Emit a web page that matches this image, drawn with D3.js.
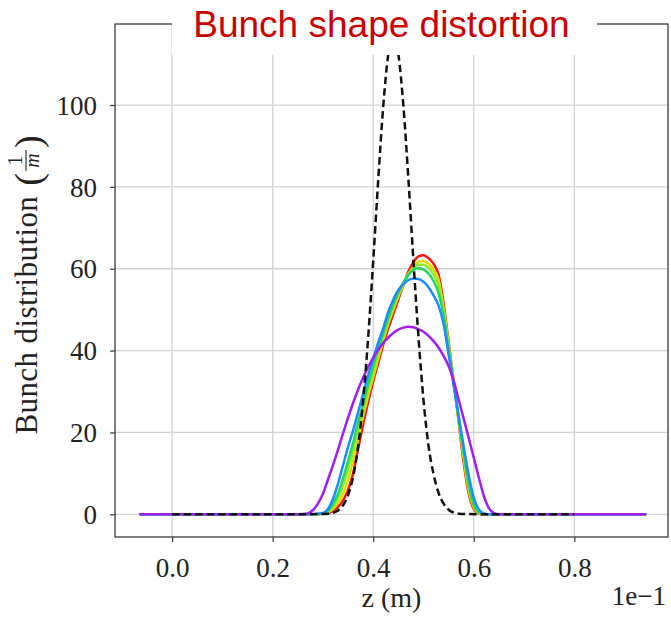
<!DOCTYPE html>
<html>
<head>
<meta charset="utf-8">
<script src="https://cdn.jsdelivr.net/npm/d3@7"></script>
<style>
    body { margin: 0; background: #ffffff; }
    svg { display: block; }
</style>
</head>
<body>
<div id="chart"></div>
<script>
const titleText = "Bunch shape distortion";
const xLabel = "z (m)";
const xOffsetText = "1e\u22121";
const zTicks = [0.0, 0.2, 0.4, 0.6, 0.8];
const yTicks = [0, 20, 40, 60, 80, 100];

// z positions of the solid curves (units of 1e-1 m)
const zSolid = [-0.065,
    0.26, 0.27, 0.28, 0.29, 0.30, 0.31, 0.32, 0.33, 0.34, 0.35, 0.36, 0.37, 0.38, 0.39,
    0.40, 0.41, 0.42, 0.43, 0.44, 0.45, 0.46, 0.47, 0.48, 0.49,
    0.50, 0.51, 0.52, 0.53, 0.54, 0.55, 0.56, 0.57, 0.58, 0.59,
    0.60, 0.61, 0.62, 0.63, 0.64, 0.65, 0.66, 0.943];

const redValues = [0,
    0, 0, 0, 0.05, 0.1, 0.3, 0.8, 1.8, 3.4, 6.0, 10.0, 16.0, 22.0, 27.5,
    32.5, 37.0, 41.5, 45.5, 49.0, 52.5, 56.0, 59.3, 61.6, 63.0,
    63.3, 62.6, 61.2, 58.5, 51.5, 42.0, 32.5, 22.5, 12.5, 5.0,
    1.3, 0.2, 0, 0, 0, 0, 0, 0];
const yellowValues = [0,
    0, 0, 0, 0, 0.15, 0.5, 1.3, 2.8, 5.0, 8.5, 13.0, 18.5, 24.0, 29.0,
    33.5, 38.0, 42.5, 46.5, 50.0, 53.2, 56.0, 58.6, 60.5, 61.7,
    61.9, 61.2, 59.8, 57.2, 50.5, 41.5, 32.5, 23.0, 13.5, 5.8,
    1.7, 0.3, 0, 0, 0, 0, 0, 0];
const limeValues = [0,
    0, 0, 0, 0.05, 0.2, 0.7, 1.9, 4.0, 7.0, 11.0, 15.5, 20.5, 25.5, 30.5,
    35.0, 39.5, 43.5, 47.5, 51.0, 54.0, 56.6, 58.8, 60.3, 61.0,
    61.0, 60.2, 58.6, 55.8, 49.5, 40.8, 32.2, 23.3, 14.5, 6.5,
    2.0, 0.4, 0, 0, 0, 0, 0, 0];
const greenValues = [0,
    0, 0, 0, 0.05, 0.25, 0.9, 2.5, 5.0, 8.8, 13.0, 17.5, 22.5, 27.0, 31.8,
    36.2, 40.5, 44.3, 48.0, 51.3, 54.2, 56.6, 58.5, 59.7, 60.1,
    59.8, 58.8, 57.0, 54.0, 48.5, 40.3, 32.0, 23.4, 15.0, 7.3,
    2.4, 0.5, 0.1, 0, 0, 0, 0, 0];
const blueValues = [0,
    0, 0, 0, 0.1, 0.3, 1.3, 3.8, 7.5, 12.0, 16.5, 20.5, 25.0, 29.5, 34.0,
    38.0, 42.0, 45.5, 49.5, 52.5, 54.8, 56.3, 57.2, 57.6, 57.5,
    56.8, 55.5, 53.5, 51.0, 46.5, 39.0, 31.5, 24.0, 16.5, 9.5,
    4.0, 1.2, 0.2, 0, 0, 0, 0, 0];
const purpleValues = [0,
    0, 0.2, 1.0, 2.6, 5.0, 8.5, 12.0, 15.8, 19.8, 23.6, 27.2, 30.5, 33.4, 36.0,
    38.3, 40.2, 41.9, 43.2, 44.3, 45.1, 45.6, 45.8, 45.7, 45.2,
    44.6, 43.6, 42.3, 40.7, 38.7, 36.2, 32.6, 28.0, 23.3, 18.6,
    13.8, 9.0, 4.5, 1.5, 0.3, 0, 0, 0];

// dashed reference bunch
const zDashed = [0.0,
    0.30, 0.31, 0.32, 0.33, 0.34, 0.35, 0.36, 0.37, 0.38, 0.39,
    0.40, 0.41, 0.42, 0.43, 0.44, 0.45, 0.46, 0.47, 0.48, 0.49,
    0.50, 0.51, 0.52, 0.53, 0.54, 0.55, 0.56, 0.57, 0.58, 0.8];
const dashedValues = [0,
    0.05, 0.14, 0.38, 0.95, 2.2, 4.7, 9.2, 16.7, 27.9, 43.3,
    61.9, 81.8, 99.8, 112.4, 117.0, 112.4, 99.8, 81.8, 61.9, 43.3,
    27.9, 16.7, 9.8, 5.2, 2.6, 1.1, 0.4, 0.15, 0.05, 0];

const solidSeries = [redValues, yellowValues, limeValues, greenValues, blueValues, purpleValues];
const solidColors = ["#ff1010", "#d8e000", "#8cec2a", "#22d660", "#1a8cff", "#a41cf4"];

const width = 671;
const height = 622;
const margin = {top: 24, right: 3, bottom: 85, left: 115};
const plotW = width - margin.left - margin.right;
const plotH = height - margin.top - margin.bottom;
const serif = "'Liberation Serif', 'DejaVu Serif', serif";

function draw() {
    const svg = d3.select("#chart").append("svg")
        .attr("width", width)
        .attr("height", height);

    const x = d3.scaleLinear().domain([-0.1136, 0.9863]).range([margin.left, margin.left + plotW]);
    const y = d3.scaleLinear().domain([-5.55, 119.8]).range([margin.top + plotH, margin.top]);

    svg.append("clipPath").attr("id", "plotClip")
        .append("rect")
        .attr("x", margin.left).attr("y", margin.top)
        .attr("width", plotW).attr("height", plotH);

    // grid
    const grid = svg.append("g");
    grid.selectAll(".vgrid").data(zTicks).enter().append("line")
        .attr("x1", d => x(d)).attr("x2", d => x(d))
        .attr("y1", margin.top).attr("y2", margin.top + plotH)
        .style("stroke", "#d2d2d2").style("stroke-width", "1.3px");
    grid.selectAll(".hgrid").data(yTicks).enter().append("line")
        .attr("x1", margin.left).attr("x2", margin.left + plotW)
        .attr("y1", d => y(d)).attr("y2", d => y(d))
        .style("stroke", "#d2d2d2").style("stroke-width", "1.3px");

    // curves
    const lines = svg.append("g").attr("clip-path", "url(#plotClip)");
    solidSeries.forEach(function (vals, i) {
        const pts = zSolid.map((z, j) => [z, vals[j]]);
        lines.append("path")
            .datum(pts)
            .attr("d", d3.line().x(d => x(d[0])).y(d => y(d[1])).curve(d3.curveMonotoneX))
            .style("fill", "none")
            .style("stroke", solidColors[i])
            .style("stroke-width", "2.5px");
    });
    const dashPts = zDashed.map((z, j) => [z, dashedValues[j]]);
    lines.append("path")
        .datum(dashPts)
        .attr("d", d3.line().x(d => x(d[0])).y(d => y(d[1])).curve(d3.curveMonotoneX))
        .style("fill", "none")
        .style("stroke", "#111")
        .style("stroke-width", "2.5px")
        .style("stroke-dasharray", "7.5,4");

    // frame
    svg.append("rect")
        .attr("x", margin.left).attr("y", margin.top)
        .attr("width", plotW).attr("height", plotH)
        .style("fill", "none").style("stroke", "#3a3a3a").style("stroke-width", "1.3px");

    // axes
    const xAxis = svg.append("g")
        .attr("transform", `translate(0,${margin.top + plotH})`)
        .call(d3.axisBottom(x).tickValues(zTicks).tickFormat(d3.format(".1f")).tickSize(5).tickPadding(16));
    const yAxis = svg.append("g")
        .attr("transform", `translate(${margin.left},0)`)
        .call(d3.axisLeft(y).tickValues(yTicks).tickSize(5).tickPadding(13));
    [xAxis, yAxis].forEach(function (ax) {
        ax.select(".domain").remove();
        ax.selectAll(".tick line").style("stroke", "#3a3a3a").style("stroke-width", "1.2px");
        ax.selectAll(".tick text")
            .style("font-family", serif)
            .style("font-size", "27px")
            .style("fill", "#222");
    });
    yAxis.selectAll(".tick text").attr("dy", "0.34em");

    svg.append("text")
        .attr("x", margin.left + plotW / 2)
        .attr("y", 607)
        .attr("text-anchor", "middle")
        .style("font-family", serif)
        .style("font-size", "28px")
        .style("fill", "#222")
        .text(xLabel);
    svg.append("text")
        .attr("x", 666)
        .attr("y", 605)
        .attr("text-anchor", "end")
        .style("font-family", serif)
        .style("font-size", "27px")
        .style("fill", "#222")
        .text(xOffsetText);

    // y label with the 1/m fraction
    const yl = svg.append("g");
    const part1 = yl.append("text")
        .style("font-family", serif).style("font-size", "31px").style("letter-spacing", "0.4px").style("fill", "#222")
        .text("Bunch distribution");
    const w1 = part1.node().getComputedTextLength();
    const open = yl.append("text")
        .attr("x", w1 + 10).attr("y", 4)
        .style("font-family", serif).style("font-size", "38px").style("fill", "#222")
        .text("(");
    const wo = open.node().getComputedTextLength();
    const fx = w1 + 10 + wo + 2;
    const fw = 21;
    yl.append("text")
        .attr("x", fx + fw / 2).attr("y", -15)
        .attr("text-anchor", "middle")
        .style("font-family", serif).style("font-size", "20px").style("fill", "#222")
        .text("1");
    yl.append("line")
        .attr("x1", fx).attr("x2", fx + fw)
        .attr("y1", -11).attr("y2", -11)
        .style("stroke", "#222").style("stroke-width", "1.1px");
    yl.append("text")
        .attr("x", fx + fw / 2).attr("y", 2)
        .attr("text-anchor", "middle")
        .style("font-family", serif).style("font-size", "20px").style("font-style", "italic").style("fill", "#222")
        .text("m");
    const close = yl.append("text")
        .attr("x", fx + fw + 2).attr("y", 4)
        .style("font-family", serif).style("font-size", "38px").style("fill", "#222")
        .text(")");
    const total = fx + fw + 2 + close.node().getComputedTextLength();
    yl.attr("transform", `translate(37,${285 + total / 2}) rotate(-90)`);

    // title box over the top of the plot
    svg.append("rect")
        .attr("x", 172).attr("y", 0)
        .attr("width", 425).attr("height", 55)
        .style("fill", "#ffffff");
    svg.append("text")
        .attr("x", 381.5)
        .attr("y", 37)
        .attr("text-anchor", "middle")
        .style("font-family", "'Liberation Sans', Arial, sans-serif")
        .style("font-size", "37px")
        .style("fill", "#cc0000")
        .text(titleText);
}

draw();
</script>
</body>
</html>
